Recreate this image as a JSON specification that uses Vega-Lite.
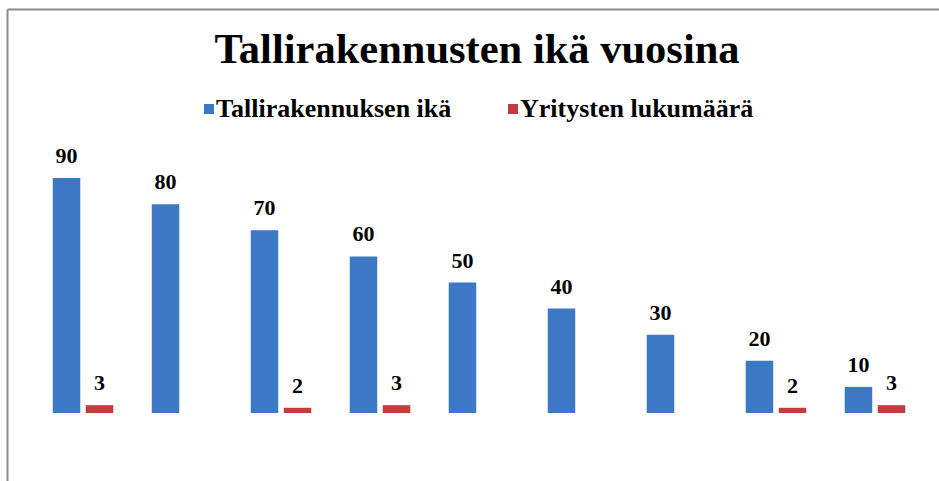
{
  "$schema": "https://vega.github.io/schema/vega-lite/v6.json",
  "width": 932,
  "height": 472,
  "autosize": "none",
  "padding": {"left": 7, "top": 9, "right": 0, "bottom": 0},
  "background": "white",
  "config": {
    "view": {"stroke": null},
    "font": "Liberation Serif"
  },
  "title": {
    "text": "Tallirakennusten ikä vuosina",
    "font": "Liberation Serif",
    "fontSize": 42.5,
    "fontWeight": "bold",
    "color": "black",
    "anchor": "middle",
    "frame": "group",
    "baseline": "alphabetic",
    "offset": 0,
    "dy": 96,
    "dx": 4
  },
  "data": {
    "values": [
      {"g": 1, "series": "Tallirakennuksen ikä", "value": 90},
      {"g": 1, "series": "Yritysten lukumäärä", "value": 3},
      {"g": 2, "series": "Tallirakennuksen ikä", "value": 80},
      {"g": 3, "series": "Tallirakennuksen ikä", "value": 70},
      {"g": 3, "series": "Yritysten lukumäärä", "value": 2},
      {"g": 4, "series": "Tallirakennuksen ikä", "value": 60},
      {"g": 4, "series": "Yritysten lukumäärä", "value": 3},
      {"g": 5, "series": "Tallirakennuksen ikä", "value": 50},
      {"g": 6, "series": "Tallirakennuksen ikä", "value": 40},
      {"g": 7, "series": "Tallirakennuksen ikä", "value": 30},
      {"g": 8, "series": "Tallirakennuksen ikä", "value": 20},
      {"g": 8, "series": "Yritysten lukumäärä", "value": 2},
      {"g": 9, "series": "Tallirakennuksen ikä", "value": 10},
      {"g": 9, "series": "Yritysten lukumäärä", "value": 3}
    ]
  },
  "encoding": {
    "x": {
      "field": "g",
      "type": "ordinal",
      "scale": {"paddingInner": 0.3333, "paddingOuter": 0.374, "align": 0.581, "round": false},
      "axis": {"orient": "top", "title": null, "labels": false, "ticks": false, "grid": false, "domainColor": "#8c8c8c", "domainWidth": 2}
    },
    "xOffset": {
      "field": "series",
      "type": "nominal",
      "scale": {"domain": ["Tallirakennuksen ikä", "Yritysten lukumäärä"], "paddingInner": 0.167, "paddingOuter": 0.083}
    },
    "y": {
      "field": "value",
      "type": "quantitative",
      "scale": {"domain": [-26.05, 154.8], "nice": false, "zero": false},
      "axis": {"orient": "left", "title": null, "labels": false, "ticks": false, "grid": false, "domainColor": "#8c8c8c", "domainWidth": 2}
    }
  },
  "layer": [
    {
      "mark": {"type": "bar"},
      "encoding": {
        "y2": {"datum": 0},
        "color": {
          "field": "series",
          "type": "nominal",
          "scale": {"domain": ["Tallirakennuksen ikä", "Yritysten lukumäärä"], "range": ["#3c78c3", "#c43c3c"]},
          "legend": {
            "orient": "none",
            "legendX": 189,
            "legendY": 87,
            "direction": "horizontal",
            "title": null,
            "padding": 0,
            "symbolType": "square",
            "symbolSize": 100,
            "symbolStrokeWidth": 0,
            "labelFont": "Liberation Serif",
            "labelFontSize": 26,
            "labelFontWeight": "bold",
            "labelColor": "black",
            "labelLimit": 400,
            "labelOffset": -6,
            "columnPadding": 48
          }
        }
      }
    },
    {
      "mark": {"type": "text", "baseline": "alphabetic", "dy": -15, "font": "Liberation Serif", "fontSize": 22, "fontWeight": "bold", "color": "black"},
      "encoding": {"text": {"field": "value", "type": "quantitative"}}
    }
  ]
}
